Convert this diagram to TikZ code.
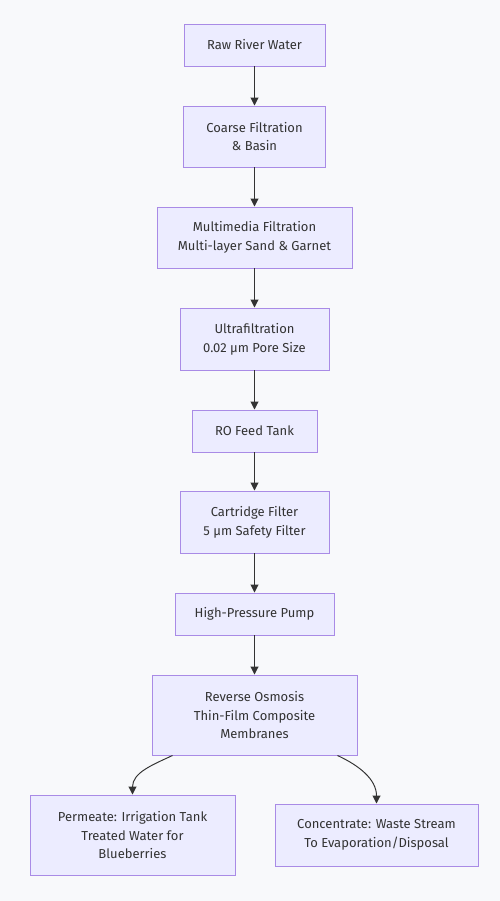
\documentclass[tikz,border=0pt]{standalone}
\usepackage{fontspec}
\setmainfont{Fira Sans}
\usetikzlibrary{arrows.meta}
\definecolor{bgpage}{HTML}{F8F9FB}
\definecolor{boxfill}{HTML}{ECECFF}
\definecolor{boxline}{HTML}{A98BE6}
\definecolor{edge}{HTML}{333333}
\begin{document}
\begin{tikzpicture}[
    stage/.style={rectangle, draw=boxline, fill=boxfill, line width=0.55pt, inner sep=0pt, minimum width=#1, text=edge, align=center, font=\fontsize{7.4}{10.8}\selectfont},
    arrow/.style={-{Triangle[length=4.5pt, width=4.5pt]}, edge, line width=0.55pt}
]
    % Hintergrund
    \fill[bgpage] (0,0) rectangle (10,-18.02);

    % Stufen
    \node[stage=2.82cm, minimum height=0.84cm] (raw) at (5.09, -0.90) {Raw River Water};
    \node[stage=2.84cm, minimum height=1.22cm] (coarse) at (5.09, -2.73) {Coarse Filtration\\\& Basin};
    \node[stage=3.90cm, minimum height=1.22cm] (mmf) at (5.09, -4.75) {Multimedia Filtration\\Multi-layer Sand \& Garnet};
    \node[stage=2.98cm, minimum height=1.24cm] (uf) at (5.09, -6.78) {Ultrafiltration\\0.02 µm Pore Size};
    \node[stage=2.50cm, minimum height=0.84cm] (tank) at (5.09, -8.62) {RO Feed Tank};
    \node[stage=2.98cm, minimum height=1.24cm] (cart) at (5.09, -10.44) {Cartridge Filter\\5 µm Safety Filter};
    \node[stage=3.18cm, minimum height=0.84cm] (pump) at (5.09, -12.28) {High-Pressure Pump};
    \node[stage=4.10cm, minimum height=1.60cm] (ro) at (5.09, -14.30) {Reverse Osmosis\\Thin-Film Composite\\Membranes};
    \node[stage=4.10cm, minimum height=1.60cm] (perm) at (2.65, -16.70) {Permeate: Irrigation Tank\\Treated Water for\\Blueberries};
    \node[stage=4.06cm, minimum height=1.24cm] (conc) at (7.53, -16.70) {Concentrate: Waste Stream\\To Evaporation/Disposal};

    % Verbindungen
    \draw[arrow] (raw) -- (coarse);
    \draw[arrow] (coarse) -- (mmf);
    \draw[arrow] (mmf) -- (uf);
    \draw[arrow] (uf) -- (tank);
    \draw[arrow] (tank) -- (cart);
    \draw[arrow] (cart) -- (pump);
    \draw[arrow] (pump) -- (ro);

    % Ausgaenge
    \coordinate (roL) at ([xshift=0.42cm]ro.south west);
    \coordinate (roR) at ([xshift=-0.40cm]ro.south east);
    \draw[arrow] (roL) to[out=-155, in=90] (perm.north);
    \draw[arrow] (roR) to[out=-25, in=90] (conc.north);
\end{tikzpicture}
\end{document}
